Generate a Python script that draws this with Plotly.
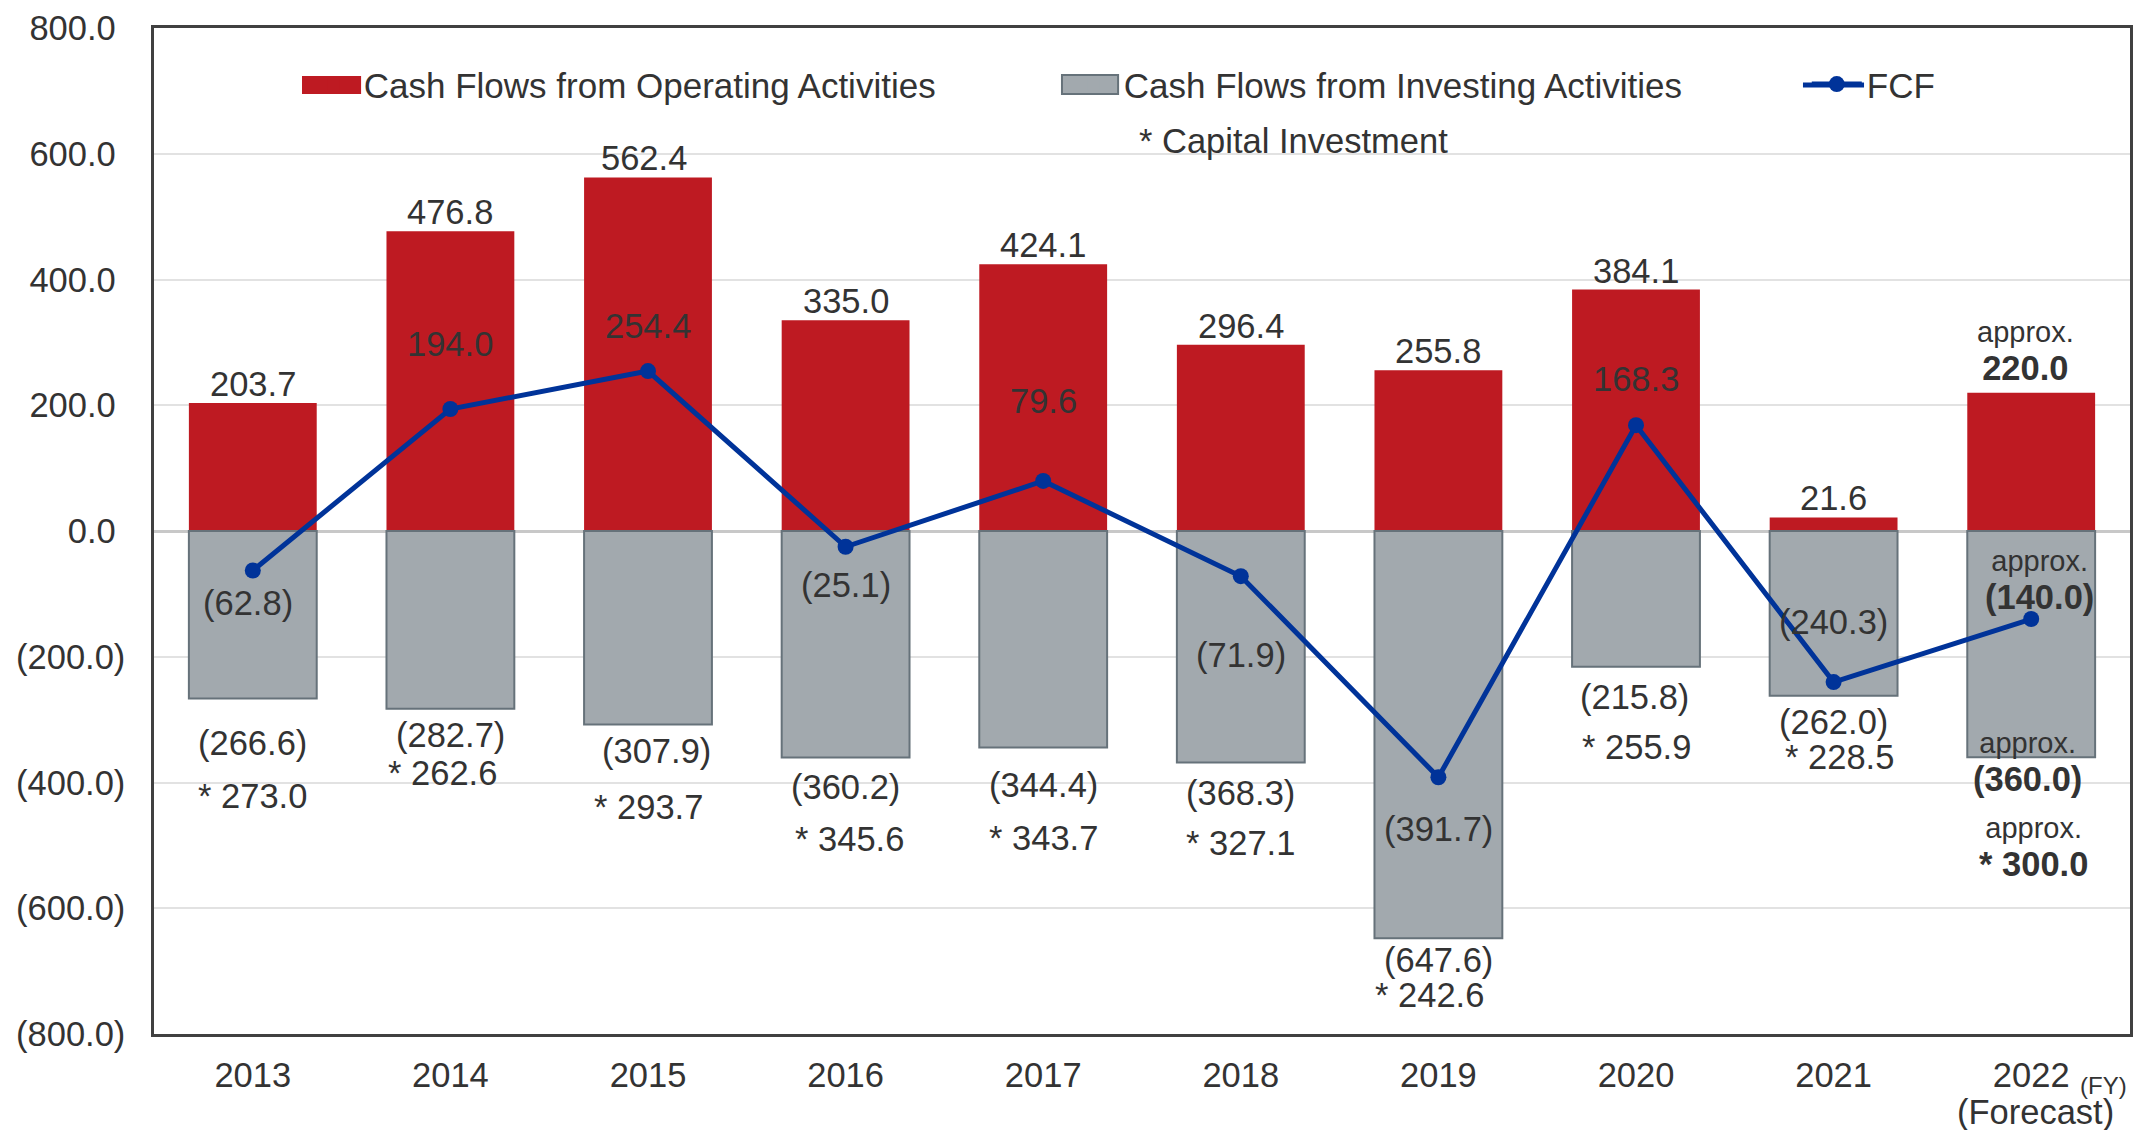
import plotly.graph_objects as go

# ---------------- data ----------------
years = ["2013", "2014", "2015", "2016", "2017", "2018", "2019", "2020", "2021", "2022"]
year_tick_text = ["2013", "2014", "2015", "2016", "2017", "2018", "2019", "2020", "2021", "2022"]
operating = [203.7, 476.8, 562.4, 335.0, 424.1, 296.4, 255.8, 384.1, 21.6, 220.0]
investing = [-266.6, -282.7, -307.9, -360.2, -344.4, -368.3, -647.6, -215.8, -262.0, -360.0]
fcf = [-62.8, 194.0, 254.4, -25.1, 79.6, -71.9, -391.7, 168.3, -240.3, -140.0]
capex = [273.0, 262.6, 293.7, 345.6, 343.7, 327.1, 242.6, 255.9, 228.5, 300.0]
is_forecast = [False] * 9 + [True]
y_tick_vals = [800, 600, 400, 200, 0, -200, -400, -600, -800]
y_tick_text = ["800.0\u00a0", "600.0\u00a0", "400.0\u00a0", "200.0\u00a0", "0.0\u00a0",
               "(200.0)", "(400.0)", "(600.0)", "(800.0)"]

# ---------------- label placement (pixels) ----------------
op_dx = [0, 0, -4, 0, 0, 0, 0, 0, 0, -6]
op_dy = [-2, -2, -2, -2, -2, -2, -2, -2, -2, 4]
inv_dy = [-44, -26, -26, -30, -37, -30, -22, -30, -26, -5]
inv_dx = [0, 0, 8, 0, 0, 0, 0, -2, 0, -4]
capex_dy = [-97, -64, -82, -82, -90, -80, -57, -80, -61, -90]
capex_dx = [0, -8, 0, 4, 0, 0, -9, 0, 6, 2]
fcf_dy = [-33, 65, 45, -38, 80, -79, -52, 46, 60, 39]
fcf_dx = [-5, 0, 0, 0, 0, 0, 0, 0, 0, 8]

RED = "#BE1A22"
GRAY = "#A2A9AE"
GRAY_EDGE = "#66727A"
BLUE = "#003399"
TXT = "#333333"
FONT = "Liberation Sans, Arial, sans-serif"
FS = 34.5
FS_SMALL = 29

NAME_OP = "Cash Flows from Operating Activities"
NAME_INV = "Cash Flows from Investing Activities"
NAME_FCF = "FCF"


def fmt(v):
    return f"({abs(v):.1f})" if v < 0 else f"{v:.1f}"


def approx(s):
    return f'approx.<br><span style="font-size:{FS}px"><b>{s}</b></span>'


fig = go.Figure()
fig.add_trace(go.Bar(x=years, y=operating, name=NAME_OP, legendrank=1, legendwidth=695,
                     marker=dict(color=RED, line=dict(width=0))))
fig.add_trace(go.Bar(x=years, y=investing, name=NAME_INV, showlegend=False,
                     marker=dict(color=GRAY, line=dict(color=GRAY_EDGE, width=2))))
# legend entry for the investing series (key box is drawn as a shape below)
fig.add_trace(go.Bar(x=[None], y=[None], name=NAME_INV, legendrank=2, legendwidth=678,
                     marker=dict(color=GRAY, line=dict(width=0)), hoverinfo="skip"))
fig.add_trace(go.Scatter(x=years, y=fcf, name=NAME_FCF, mode="lines+markers",
                         legendrank=3, legendwidth=80,
                         line=dict(color=BLUE, width=5),
                         marker=dict(color=BLUE, size=16)))

ann = []


def label(xi, y, text, forecast, **kw):
    a = dict(x=xi, y=y, xref="x", yref="y", showarrow=False,
             text=approx(text) if forecast else text,
             font=dict(family=FONT, size=FS_SMALL if forecast else FS, color=TXT))
    a.update(kw)
    ann.append(a)


for i, yr in enumerate(years):
    f = is_forecast[i]
    xi = years.index(yr)  # category position on the x axis
    label(xi, operating[i], fmt(operating[i]), f, yanchor="bottom",
          xshift=op_dx[i], yshift=op_dy[i])
    label(xi, investing[i], fmt(investing[i]), f, yanchor="middle",
          xshift=inv_dx[i], yshift=inv_dy[i])
    label(xi, investing[i], "* " + fmt(capex[i]), f, yanchor="middle",
          xshift=capex_dx[i], yshift=capex_dy[i])
    label(xi, fcf[i], fmt(fcf[i]), f, yanchor="middle",
          xshift=fcf_dx[i], yshift=fcf_dy[i])

ann.append(dict(x=0.5765, y=0.8875, xref="paper", yref="paper", text="* Capital Investment",
                showarrow=False, font=dict(family=FONT, size=FS, color=TXT),
                xanchor="center", yanchor="middle"))
ann.append(dict(x=len(years) - 1, y=-0.0772, xref="x", yref="paper", text="(Forecast)",
                xshift=4, showarrow=False, borderpad=0,
                font=dict(family=FONT, size=FS, color=TXT),
                xanchor="center", yanchor="middle"))
ann.append(dict(x=0.9868, y=-0.0507, xref="paper", yref="paper", text="(FY)",
                showarrow=False, borderpad=0, font=dict(family=FONT, size=24, color=TXT),
                xanchor="center", yanchor="middle"))

# legend key boxes (wider than plotly's default key symbols)
shapes = [
    dict(type="rect", xref="paper", yref="paper", x0=0.0749, x1=0.1048,
         y0=0.9344, y1=0.9523, fillcolor=RED, line=dict(width=0), layer="above"),
    dict(type="rect", xref="paper", yref="paper", x0=0.4595, x1=0.4879,
         y0=0.9344, y1=0.9533, fillcolor=GRAY, line=dict(color=GRAY_EDGE, width=2),
         layer="above"),
    dict(type="line", xref="paper", yref="paper", x0=0.8345, x1=0.8654,
         y0=0.9433, y1=0.9433, line=dict(color=BLUE, width=5), layer="above"),
]

fig.update_layout(
    width=2134, height=1130,
    barmode="relative", bargap=0.353,
    plot_bgcolor="white", paper_bgcolor="white",
    margin=dict(l=154, r=4, t=28, b=96, autoexpand=False),
    font=dict(family=FONT, size=FS, color=TXT),
    annotations=ann,
    shapes=shapes,
    showlegend=True,
    legend=dict(orientation="h", x=0.0758, y=0.944, xanchor="left", yanchor="middle",
                font=dict(family=FONT, size=35, color=TXT),
                itemwidth=50,
                bgcolor="rgba(0,0,0,0)", traceorder="normal"),
)
fig.update_xaxes(type="category", range=[-0.5, len(years) - 0.5],
                 tickvals=years, ticktext=year_tick_text, ticks="",
                 tickangle=0, automargin=False,
                 showline=True, mirror=True, linecolor="#404040", linewidth=2.5,
                 showgrid=False, ticklabelstandoff=9,
                 tickfont=dict(family=FONT, size=FS, color=TXT))
fig.update_yaxes(range=[-800, 800], tickvals=y_tick_vals, ticktext=y_tick_text, ticks="",
                 automargin=False,
                 showline=True, mirror=True, linecolor="#404040", linewidth=2.5,
                 showgrid=True, gridcolor="#E2E2E2", gridwidth=2,
                 zeroline=True, zerolinecolor="#C8C8C8", zerolinewidth=3,
                 ticklabelstandoff=19,
                 tickfont=dict(family=FONT, size=FS, color=TXT))

# remove the default page margin so the figure fills the window exactly
fig.write_html("out.html", config={"displayModeBar": False},
               post_script="document.body.style.margin='0';"
                           "document.body.style.overflow='hidden';")
